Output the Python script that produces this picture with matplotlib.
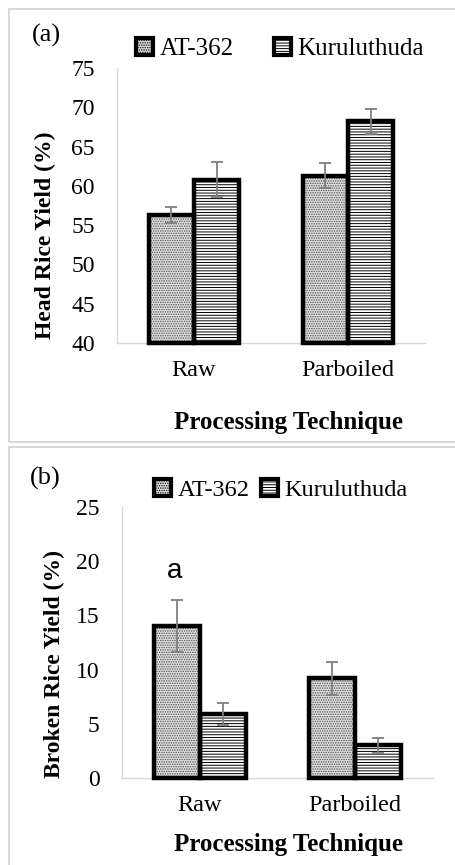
import numpy as np
import matplotlib.pyplot as plt
from matplotlib.patches import Patch, Rectangle

plt.rcParams['font.family'] = ['Liberation Serif', 'DejaVu Serif']
plt.rcParams['hatch.linewidth'] = 0.7

categories = ['Raw', 'Parboiled']
varieties = ['AT-362', 'Kuruluthuda']

# head rice yield (%)
head_at362 = [56.3, 61.3]
head_at362_err = [1.0, 1.6]
head_kuru = [60.8, 68.2]
head_kuru_err = [2.2, 1.6]

# broken rice yield (%)
broken_at362 = [14.0, 9.2]
broken_at362_err = [2.4, 1.5]
broken_kuru = [5.9, 3.0]
broken_kuru_err = [1.0, 0.7]

hatches = ['.......', '------']
fills = ['#e0e0e0', 'white']
hatch_cols = ['#505050', 'black']
W, H = 455, 865


def draw_panel(ax, series, errs, ymin, ymax, step, ylabel_pos, ylabel):
    x = np.arange(len(categories))
    bw = 0.295
    offs = [-bw / 2, bw / 2]
    for k in range(2):
        vals = np.array(series[k])
        ax.bar(x + offs[k], vals - ymin, bw, bottom=ymin, color=fills[k],
               edgecolor=hatch_cols[k], hatch=hatches[k], linewidth=0, zorder=2)
        ax.bar(x + offs[k], vals - ymin, bw, bottom=ymin, fill=False,
               edgecolor='black', linewidth=3.2, zorder=3, clip_on=False)
        ax.errorbar(x + offs[k], vals, yerr=errs[k], fmt='none', ecolor='#7f7f7f',
                    elinewidth=1.3, capsize=4, capthick=1.3, zorder=4)
    ax.set_xlim(-0.5, len(categories) - 0.5)
    ax.set_ylim(ymin, ymax)
    ax.set_yticks(np.arange(ymin, ymax + 0.1, step))
    ax.set_xticks(x)
    ax.set_xticklabels(categories)
    ax.tick_params(axis='y', length=0, pad=16, labelsize=17)
    ax.tick_params(axis='x', length=0, pad=12, labelsize=17.5)
    for s in ['top', 'right']:
        ax.spines[s].set_visible(False)
    for s in ['left', 'bottom']:
        ax.spines[s].set_color('#d9d9d9')
        ax.spines[s].set_linewidth(1.0)
    fig.text(ylabel_pos[0] / W, 1 - ylabel_pos[1] / H, ylabel, rotation=90,
             ha='center', va='center', fontsize=17, fontweight='bold')


fig = plt.figure(figsize=(W / 100, H / 100), dpi=100)

# panel frames
fig.patches.append(Rectangle((9 / W, 1 - 442 / H), 470 / W, 433 / H, transform=fig.transFigure,
                             fill=False, edgecolor='#d9d9d9', linewidth=1.5))
fig.patches.append(Rectangle((9 / W, 1 - 880 / H), 470 / W, 433 / H, transform=fig.transFigure,
                             fill=False, edgecolor='#d9d9d9', linewidth=1.5))

handles = [Patch(facecolor=fills[k], edgecolor='black', hatch=hatches[k], linewidth=3)
           for k in range(2)]

ax1 = fig.add_axes([117 / W, 1 - 343 / H, 308 / W, 275 / H])
draw_panel(ax1, [head_at362, head_kuru], [head_at362_err, head_kuru_err], 40, 75, 5,
           (45, 235), 'Head Rice Yield (%)')
ax1.legend(handles, varieties, loc='center', bbox_to_anchor=(280 / W, 1 - 49 / H),
           bbox_transform=fig.transFigure, ncol=2, frameon=False, fontsize=18,
           handlelength=0.7, handleheight=0.7, handletextpad=0.25, columnspacing=1.6)
fig.text(46 / W, 1 - 35 / H, '(a)', ha='center', va='center', fontsize=19)
fig.text(288 / W, 1 - 423 / H, 'Processing Technique', ha='center', va='center',
         fontsize=18, fontweight='bold')

ax2 = fig.add_axes([122 / W, 1 - 778 / H, 311 / W, 271 / H])
draw_panel(ax2, [broken_at362, broken_kuru], [broken_at362_err, broken_kuru_err], 0, 25, 5,
           (54, 664), 'Broken Rice Yield (%)')
ax2.legend(handles, varieties, loc='center', bbox_to_anchor=(281 / W, 1 - 490 / H),
           bbox_transform=fig.transFigure, ncol=2, frameon=False, fontsize=17.5,
           handlelength=0.7, handleheight=0.7, handletextpad=0.25, columnspacing=0.5)
ax2.text(-0.16, 19.1, 'a', ha='center', va='center', fontsize=20,
         family=['Liberation Sans', 'DejaVu Sans'])
fig.text(45 / W, 1 - 478 / H, '(b)', ha='center', va='center', fontsize=19)
fig.text(288 / W, 1 - 845 / H, 'Processing Technique', ha='center', va='center',
         fontsize=18, fontweight='bold')

fig.savefig('out.png', dpi=100)
